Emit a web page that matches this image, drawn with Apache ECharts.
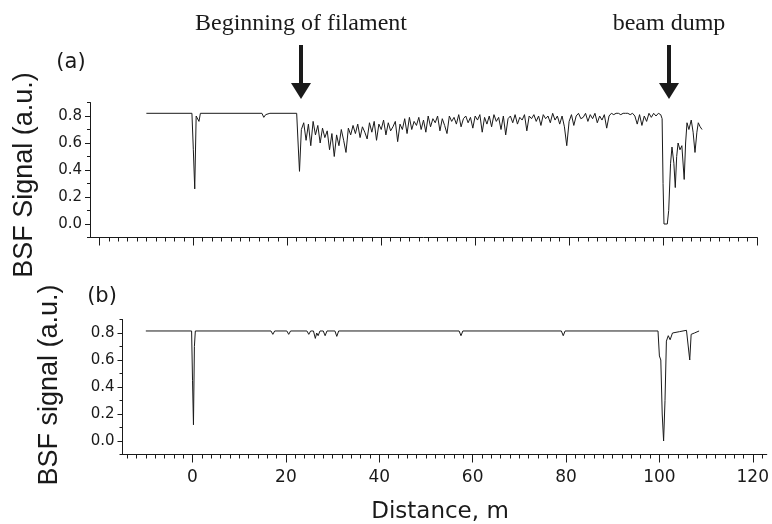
<!DOCTYPE html>
<html>
<head>
<meta charset="utf-8">
<script src="https://cdn.jsdelivr.net/npm/echarts@6/dist/echarts.min.js"></script>
<style>
html,body{margin:0;padding:0;background:#fff;}
#chart{width:772px;height:524px;}
</style>
</head>
<body>
<div id="chart"></div>
<script>
// ---- Data (distance in m, BSF signal in a.u.) ----
const bsfA_start = [
  [-10, 0.82], [-0.3, 0.82], [0.0, 0.55], [0.3, 0.26], [0.6, 0.80], [0.9, 0.81],
  [1.2, 0.76], [1.5, 0.82], [14.6, 0.82], [15.0, 0.79], [15.4, 0.81], [15.8, 0.80],
  [16.3, 0.82], [22.0, 0.82], [22.3, 0.60], [22.6, 0.39]
];
const bsfA_filament = [
  [23.0,0.70],[23.5,0.75],[24.0,0.62],[24.5,0.74],[25.0,0.58],[25.5,0.76],[26.0,0.66],[26.5,0.73],[27.0,0.60],[27.5,0.71],
  [28.0,0.64],[28.5,0.69],[29.0,0.55],[29.5,0.67],[30.0,0.50],[30.5,0.66],[31.0,0.58],[31.5,0.70],[32.0,0.62],[32.5,0.53],
  [33.0,0.71],[33.5,0.66],[34.0,0.73],[34.5,0.67],[35.0,0.74],[35.5,0.64],[36.0,0.72],[36.5,0.68],[37.0,0.63],[37.5,0.75],
  [38.0,0.68],[38.5,0.76],[39.0,0.62],[39.5,0.74],[40.0,0.70],[40.5,0.77],[41.0,0.66],[41.5,0.75],[42.0,0.69],[42.5,0.72],
  [43.0,0.76],[43.5,0.61],[44.0,0.74],[44.5,0.70],[45.0,0.78],[45.5,0.67],[46.0,0.79],[46.5,0.70],[47.0,0.76],[47.5,0.73],
  [48.0,0.79],[48.5,0.70],[49.0,0.77],[49.5,0.68],[50.0,0.80],[50.5,0.72],[51.0,0.78],[51.5,0.75],[52.0,0.80],[52.5,0.69],
  [53.0,0.78],[53.5,0.73],[54.0,0.67],[54.5,0.80],[55.0,0.76],[55.5,0.79],[56.0,0.74],[56.5,0.81],[57.0,0.72],[57.5,0.78],
  [58.0,0.80],[58.5,0.75],[59.0,0.79],[59.5,0.71],[60.0,0.80],[60.5,0.77],[61.0,0.81],[61.5,0.68],[62.0,0.79],[62.5,0.74],
  [63.0,0.80],[63.5,0.72],[64.0,0.81],[64.5,0.76],[65.0,0.79],[65.5,0.70],[66.0,0.80],[66.5,0.66],[67.0,0.78],[67.5,0.80],
  [68.0,0.75],[68.5,0.81],[69.0,0.74],[69.5,0.79],[70.0,0.77],[70.5,0.81],[71.0,0.69],[71.5,0.80],[72.0,0.78],[72.5,0.81],
  [73.0,0.76],[73.5,0.80],[74.0,0.73],[74.5,0.81],[75.0,0.78],[75.5,0.80],[76.0,0.75],[76.5,0.82],[77.0,0.77],[77.5,0.80],
  [78.0,0.74],[78.5,0.80],[79.0,0.72],[79.5,0.58],[80.0,0.76],[80.5,0.81],[81.0,0.73],[81.5,0.80],[82.0,0.82],[82.5,0.78],
  [83.0,0.79],[83.5,0.82],[84.0,0.76],[84.5,0.81],[85.0,0.78],[85.5,0.82],[86.0,0.75],[86.5,0.80],[87.0,0.77],[87.5,0.81],
  [88.0,0.71],[88.5,0.80],[89.0,0.82],[89.5,0.81],[90.0,0.82],[90.5,0.82],[91.0,0.81],[91.5,0.82],[92.0,0.82],[92.5,0.82],
  [93.0,0.81],[93.5,0.82],[94.0,0.80],[94.5,0.74],[95.0,0.81],[95.5,0.73],[96.0,0.80],[96.5,0.76],[97.0,0.82],[97.5,0.79],
  [98.0,0.82],[98.5,0.80],[99.0,0.82],[99.5,0.81]
];
const bsfA_dump = [
  [99.8,0.78],[100.0,0.30],[100.2,0.0],[100.9,0.0],[101.2,0.10],[101.6,0.45],[101.9,0.57],[102.3,0.45],
  [102.6,0.27],[102.9,0.50],[103.2,0.60],[103.6,0.55],[104.0,0.58],[104.5,0.33],[104.8,0.60],[105.1,0.75],
  [105.5,0.70],[106.0,0.77],[106.4,0.68],[106.8,0.53],[107.2,0.68],[107.5,0.75],[107.9,0.72],[108.3,0.70]
];
const bsfB = [
  [-10,0.815],[-0.2,0.815],[0.0,0.45],[0.2,0.12],[0.4,0.70],[0.6,0.815],
  [16.8,0.815],[17.2,0.79],[17.6,0.815],[20.2,0.815],[20.6,0.79],[21.0,0.815],
  [24.5,0.815],[24.9,0.79],[25.3,0.815],[25.9,0.815],[26.3,0.76],[26.6,0.80],[26.9,0.78],[27.3,0.815],
  [28.0,0.815],[28.4,0.78],[28.8,0.815],[30.5,0.815],[30.9,0.775],[31.3,0.815],
  [57.1,0.815],[57.5,0.78],[57.9,0.815],[79.0,0.815],[79.4,0.78],[79.8,0.815],
  [99.7,0.815],[100.0,0.63],[100.3,0.60],[100.6,0.20],[100.9,0.0],[101.2,0.30],[101.5,0.74],
  [101.9,0.78],[102.3,0.75],[102.8,0.80],[104.3,0.81],[105.8,0.82],[106.2,0.81],[106.5,0.60],
  [106.8,0.79],[107.5,0.80],[108.5,0.815]
];
// ---- Tick values ----
const yLabelTicks = [0, 0.2, 0.4, 0.6, 0.8];
const yMinorTicks = [-0.1, 0.1, 0.3, 0.5, 0.7, 0.9];
const xMajorTop = [-20, 0, 20, 40, 60, 80, 100, 120];
const xMajorBottom = [0, 20, 40, 60, 80, 100, 120];
const xMinorTop = [];
for (let v = -20; v <= 120; v += 2) xMinorTop.push(v);
const xMinorBottom = [];
for (let v = -14; v <= 122; v += 2) xMinorBottom.push(v);

const bsfA = bsfA_start.concat(bsfA_filament, bsfA_dump);

const INK = '#1a1a1a';
const numFont = 'DejaVu Sans';

function xAx(grid, min, max, ticks, len, showLine, labels) {
  return {
    type: 'value', gridIndex: grid, min: min, max: max, position: 'bottom',
    axisLine: { show: showLine, onZero: false, lineStyle: { color: INK, width: 1 } },
    axisTick: { show: true, customValues: ticks, length: len, inside: false, lineStyle: { color: INK, width: 1 } },
    axisLabel: labels ? { show: true, customValues: ticks, color: INK, fontFamily: numFont, fontSize: 17, margin: 15 } : { show: false },
    splitLine: { show: false }
  };
}
function yAx(grid, ticks, len, showLine, labels) {
  return {
    type: 'value', gridIndex: grid, min: -0.1, max: 0.9, position: 'left',
    axisLine: { show: showLine, onZero: false, lineStyle: { color: INK, width: 1 } },
    axisTick: { show: true, customValues: ticks, length: len, inside: false, lineStyle: { color: INK, width: 1 } },
    axisLabel: labels ? { show: true, customValues: ticks, color: INK, fontFamily: numFont, fontSize: 15, margin: 8,
      formatter: function (v) { return Number(v).toFixed(1); } } : { show: false },
    splitLine: { show: false }
  };
}

const chart = echarts.init(document.getElementById('chart'), null, { renderer: 'canvas' });
const arrowShaft = (cx) => ({ type: 'rect', shape: { x: cx - 2, y: 45, width: 4, height: 40 }, style: { fill: INK } });
const arrowHead = (cx) => ({ type: 'polygon', shape: { points: [[cx - 10, 83], [cx + 10, 83], [cx, 99]] }, style: { fill: INK } });

chart.setOption({
  animation: false,
  backgroundColor: '#fff',
  grid: [
    { left: 90, top: 102.5, width: 667, height: 135 },
    { left: 122.5, top: 319.5, width: 648.6, height: 135 }
  ],
  xAxis: [
    xAx(0, -22, 120, xMajorTop, 8, true, false),
    xAx(0, -22, 120, xMinorTop, 4, false, false),
    xAx(1, -15, 123, xMajorBottom, 8, true, true),
    xAx(1, -15, 123, xMinorBottom, 4, false, false)
  ],
  yAxis: [
    yAx(0, yLabelTicks, 5, true, true),
    yAx(0, yMinorTicks, 3, false, false),
    yAx(1, yLabelTicks, 5, true, true),
    yAx(1, yMinorTicks, 3, false, false)
  ],
  series: [
    { type: 'line', xAxisIndex: 0, yAxisIndex: 0, data: bsfA, showSymbol: false, symbol: 'none',
      lineStyle: { color: INK, width: 1 } },
    { type: 'line', xAxisIndex: 2, yAxisIndex: 2, data: bsfB, showSymbol: false, symbol: 'none',
      lineStyle: { color: INK, width: 1 } }
  ],
  graphic: [
    { type: 'text', x: 301, y: 24, style: { text: 'Beginning of filament', font: '24px "Liberation Serif"', fill: INK, align: 'center', verticalAlign: 'middle' } },
    { type: 'text', x: 669, y: 24, style: { text: 'beam dump', font: '24px "Liberation Serif"', fill: INK, align: 'center', verticalAlign: 'middle' } },
    arrowShaft(301), arrowHead(301), arrowShaft(669), arrowHead(669),
    { type: 'text', x: 71, y: 63, style: { text: '(a)', font: '21px "DejaVu Sans"', fill: INK, align: 'center', verticalAlign: 'middle' } },
    { type: 'text', x: 102, y: 297, style: { text: '(b)', font: '21px "DejaVu Sans"', fill: INK, align: 'center', verticalAlign: 'middle' } },
    { type: 'text', x: 25, y: 175, rotation: Math.PI / 2, style: { text: 'BSF Signal (a.u.)', font: '27px "Liberation Sans"', fill: INK, align: 'center', verticalAlign: 'middle' } },
    { type: 'text', x: 50, y: 385, rotation: Math.PI / 2, style: { text: 'BSF signal (a.u.)', font: '27px "Liberation Sans"', fill: INK, align: 'center', verticalAlign: 'middle' } },
    { type: 'text', x: 440, y: 512, style: { text: 'Distance, m', font: '23px "DejaVu Sans"', fill: INK, align: 'center', verticalAlign: 'middle' } }
  ]
});
</script>
</body>
</html>
